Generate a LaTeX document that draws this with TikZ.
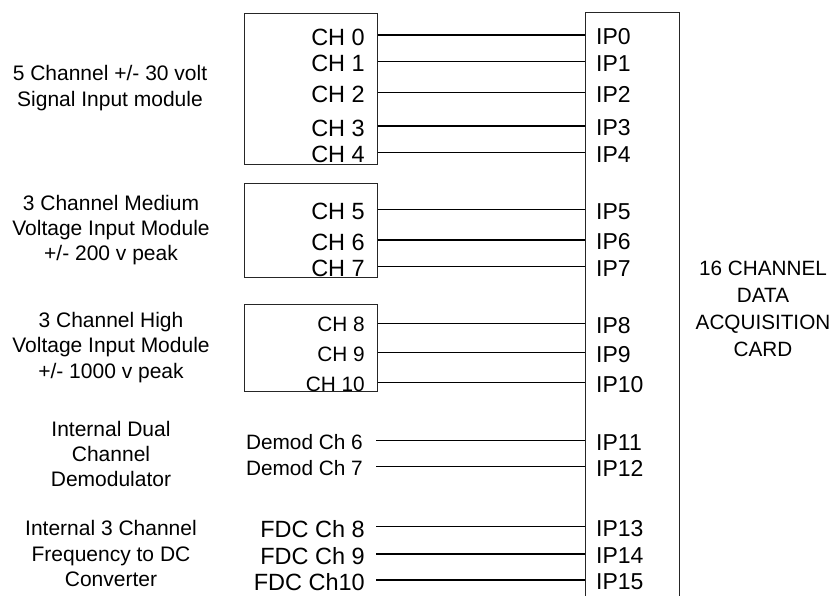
\documentclass[tikz,border=0pt]{standalone}
\usepackage{fontspec}
\setmainfont{Liberation Sans}
\begin{document}
\begin{tikzpicture}[x=1pt,y=-1pt,
  chl/.style={anchor=east, inner sep=0pt, font=\fontsize{23.5}{27}\selectfont},
  chs/.style={anchor=east, inner sep=0pt, font=\fontsize{20.8}{24}\selectfont},
  ipl/.style={anchor=west, inner sep=0pt, font=\fontsize{23}{27}\selectfont},
  desc/.style={align=center, inner sep=0pt, font=\fontsize{21}{25.3}\selectfont},
  wire/.style={line width=1.3pt},
  frame/.style={draw, line width=0.8pt, draw=black!85},
  modbox/.style={frame, anchor=north west, minimum width=133pt, inner sep=0pt}]
\useasboundingbox (0,0) rectangle (835,596);

% modules
\node[modbox, minimum height=151.3pt] (m1) at (244,12.7) {};
\node[modbox, minimum height=94pt] (m2) at (244,183.3) {};
\node[modbox, minimum height=86.4pt] (m3) at (244,304.3) {};

% card
\coordinate (cl) at (585,596);
\coordinate (ctl) at (585,12.7);
\coordinate (ctr) at (679,12.7);
\coordinate (cr) at (679,596);
\draw[frame] (cl) -- (ctl) -- (ctr) -- (cr);
\node[align=center, inner sep=0pt, font=\fontsize{20.7}{26.8}\selectfont] (card) at (763,309)
  {16 CHANNEL\\DATA\\ACQUISITION\\CARD};

% rows of the module boxes
\foreach \n/\y/\t/\m in {0/35/CH 0/m1, 1/61.7/CH 1/m1, 2/92.7/CH 2/m1, 3/126/CH 3/m1, 4/152.7/CH 4/m1,
                       5/209.3/CH 5/m2, 6/240/CH 6/m2, 7/266.7/CH 7/m2}{
  \coordinate (s\n) at (\m.east |- 0,\y);
  \coordinate (t\n) at (ctl |- 0,\y);
  \node[chl] (ch\n) at (365,\y+2) {\t};
  \node[ipl] (ip\n) at (596,\y+2) {IP\n};
  \draw[wire] (s\n) -- (t\n);
}
\foreach \n/\y/\t in {8/323.3/CH 8, 9/352.7/CH 9, 10/382.7/CH 10}{
  \coordinate (s\n) at (m3.east |- 0,\y);
  \coordinate (t\n) at (ctl |- 0,\y);
  \node[chs] (ch\n) at (365,\y+1.5) {\t};
  \node[ipl] (ip\n) at (596,\y+2) {IP\n};
  \draw[wire] (s\n) -- (t\n);
}
\foreach \n/\y/\t in {11/440.7/Demod Ch 6, 12/466.7/Demod Ch 7}{
  \coordinate (s\n) at (376,\y);
  \coordinate (t\n) at (ctl |- 0,\y);
  \node[chs] (ch\n) at (363,\y+1.5) {\t};
  \node[ipl] (ip\n) at (596,\y+2) {IP\n};
  \draw[wire] (s\n) -- (t\n);
}
\foreach \n/\y/\t in {13/526.7/FDC Ch 8, 14/554/FDC Ch 9, 15/580/FDC Ch10}{
  \coordinate (s\n) at (376,\y);
  \coordinate (t\n) at (ctl |- 0,\y);
  \node[chl] (ch\n) at (365,\y+2) {\t};
  \node[ipl] (ip\n) at (596,\y+2) {IP\n};
  \draw[wire] (s\n) -- (t\n);
}

% descriptions
\node[desc] (d1) at (110,88) {5 Channel +/- 30 volt\\Signal Input module};
\node[desc] (d2) at (111,230) {3 Channel Medium\\Voltage Input Module\\+/- 200 v peak};
\node[desc] (d3) at (111,347.5) {3 Channel High\\Voltage Input Module\\+/- 1000 v peak};
\node[desc] (d4) at (111,454) {Internal Dual\\Channel\\Demodulator};
\node[desc] (d5) at (111,553.5) {Internal 3 Channel\\Frequency to DC\\Converter};
\end{tikzpicture}
\end{document}
